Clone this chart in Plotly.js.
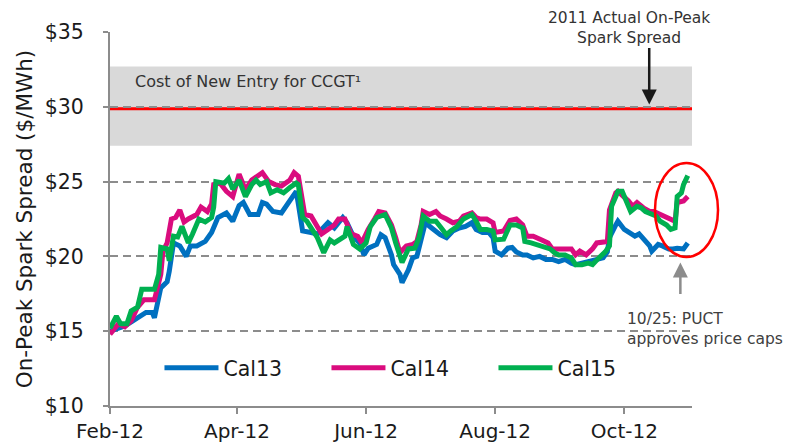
<!DOCTYPE html>
<html>
<head>
<meta charset="utf-8">
<script src="https://cdn.plot.ly/plotly-3.0.1.min.js"></script>
<style>html,body{margin:0;padding:0;background:#fff;}#chart{width:785px;height:444px;}</style>
</head>
<body>
<div id="chart"></div>
<script>
// ---- Data ----
var seriesNames = ['Cal13', 'Cal14', 'Cal15'];

var cal13Dates = ['2012-02-01','2012-02-08','2012-02-12','2012-02-14','2012-02-18','2012-02-21','2012-02-22','2012-02-25','2012-02-28','2012-02-29',
 '2012-03-02','2012-03-05','2012-03-08','2012-03-10','2012-03-13','2012-03-17','2012-03-20','2012-03-23','2012-03-27','2012-03-30',
 '2012-04-02','2012-04-04','2012-04-07','2012-04-11','2012-04-13','2012-04-15','2012-04-18','2012-04-22','2012-04-26','2012-04-29','2012-04-30',
 '2012-05-02','2012-05-06','2012-05-09','2012-05-11','2012-05-14','2012-05-17','2012-05-21','2012-05-23','2012-05-26','2012-05-29','2012-05-31',
 '2012-06-02','2012-06-06','2012-06-08','2012-06-10','2012-06-13','2012-06-14','2012-06-17','2012-06-18','2012-06-21','2012-06-23','2012-06-25','2012-06-27','2012-06-29',
 '2012-07-02','2012-07-06','2012-07-09','2012-07-12','2012-07-15','2012-07-18','2012-07-21','2012-07-23','2012-07-26','2012-07-29','2012-07-31',
 '2012-08-01','2012-08-04','2012-08-07','2012-08-09','2012-08-11','2012-08-14','2012-08-16','2012-08-19','2012-08-22','2012-08-25','2012-08-28','2012-08-31',
 '2012-09-03','2012-09-06','2012-09-08','2012-09-11','2012-09-14','2012-09-18','2012-09-21','2012-09-23','2012-09-24','2012-09-27','2012-09-28',
 '2012-10-01','2012-10-03','2012-10-06','2012-10-08','2012-10-11','2012-10-13','2012-10-14','2012-10-17','2012-10-19','2012-10-22','2012-10-24','2012-10-26','2012-10-29','2012-10-31'];
var cal13Values = [15.0,15.35,15.7,15.9,16.25,16.25,15.9,17.9,18.3,19.0,
 20.9,20.7,20.0,20.7,20.7,21.0,21.6,22.6,22.9,22.35,
 23.4,23.6,22.8,22.8,23.6,23.5,23.0,22.9,23.8,24.35,23.5,
 21.7,21.6,21.5,21.8,22.25,21.9,22.6,22.25,21.35,20.9,20.1,
 20.55,20.8,21.45,21.25,20.1,19.45,18.8,18.25,19.1,19.9,20.0,21.0,22.25,
 21.9,21.45,21.25,21.7,21.9,22.0,22.25,21.8,21.6,21.6,21.25,
 20.35,20.1,20.55,20.6,20.3,20.1,20.1,19.9,20.0,19.8,19.8,19.65,
 19.8,19.55,19.45,19.55,19.65,19.75,19.9,20.3,21.25,22.1,22.35,
 21.8,21.6,21.35,21.5,21.0,20.7,20.35,20.8,20.7,20.5,20.5,20.55,20.5,20.9];

var cal14Dates = ['2012-02-01','2012-02-03','2012-02-05','2012-02-08','2012-02-11','2012-02-14','2012-02-17','2012-02-22','2012-02-25','2012-02-26','2012-02-28',
 '2012-03-01','2012-03-03','2012-03-05','2012-03-07','2012-03-09','2012-03-13','2012-03-15','2012-03-18','2012-03-20','2012-03-21','2012-03-24','2012-03-27','2012-03-30',
 '2012-04-02','2012-04-05','2012-04-08','2012-04-13','2012-04-16','2012-04-19','2012-04-22','2012-04-26','2012-04-28','2012-04-30',
 '2012-05-03','2012-05-06','2012-05-09','2012-05-11','2012-05-14','2012-05-17','2012-05-19','2012-05-22','2012-05-25','2012-05-28','2012-05-30',
 '2012-06-02','2012-06-05','2012-06-07','2012-06-10','2012-06-13','2012-06-15','2012-06-17','2012-06-20','2012-06-23','2012-06-25','2012-06-27','2012-06-28',
 '2012-07-01','2012-07-04','2012-07-06','2012-07-09','2012-07-12','2012-07-15','2012-07-17','2012-07-21','2012-07-23','2012-07-25','2012-07-28','2012-07-31',
 '2012-08-01','2012-08-05','2012-08-08','2012-08-11','2012-08-14','2012-08-16','2012-08-19','2012-08-23','2012-08-26','2012-08-28','2012-08-31',
 '2012-09-03','2012-09-06','2012-09-08','2012-09-10','2012-09-13','2012-09-16','2012-09-18','2012-09-21','2012-09-23','2012-09-24','2012-09-27','2012-09-28',
 '2012-10-01','2012-10-03','2012-10-05','2012-10-07','2012-10-10','2012-10-13','2012-10-15','2012-10-18','2012-10-20','2012-10-22','2012-10-25','2012-10-26','2012-10-29','2012-10-31'];
var cal14Values = [14.8,15.1,15.5,15.3,15.7,16.6,17.1,17.1,18.8,20.35,20.9,
 22.5,22.6,23.1,22.3,22.5,22.8,23.3,23.0,23.5,24.8,24.9,24.35,24.0,
 25.5,24.45,25.1,25.6,25.0,24.8,24.7,25.1,25.6,25.35,
 22.8,22.7,21.9,21.5,21.8,22.1,22.5,22.5,21.5,21.35,20.9,
 21.8,22.5,23.0,22.9,22.1,21.25,20.25,20.7,20.8,21.0,22.1,23.0,
 22.8,23.0,22.7,22.5,22.25,22.35,22.7,22.9,22.6,22.5,22.5,22.25,
 21.6,21.7,22.4,22.5,22.1,21.35,21.35,21.1,20.9,20.5,20.5,
 20.55,20.5,20.1,20.35,20.1,20.5,20.9,21.0,21.0,23.1,24.25,24.35,
 24.0,23.7,23.35,23.6,23.25,23.0,23.0,22.8,22.6,22.5,22.35,23.6,23.7,24.0];

var cal15Dates = ['2012-02-01','2012-02-04','2012-02-06','2012-02-09','2012-02-11','2012-02-14','2012-02-16','2012-02-22','2012-02-24','2012-02-25','2012-02-28','2012-02-29',
 '2012-03-02','2012-03-04','2012-03-06','2012-03-09','2012-03-11','2012-03-14','2012-03-17','2012-03-20','2012-03-21','2012-03-22','2012-03-26','2012-03-28','2012-03-30',
 '2012-04-02','2012-04-05','2012-04-08','2012-04-10','2012-04-12','2012-04-15','2012-04-17','2012-04-20','2012-04-23','2012-04-26','2012-04-29','2012-04-30',
 '2012-05-02','2012-05-04','2012-05-07','2012-05-09','2012-05-12','2012-05-15','2012-05-17','2012-05-19','2012-05-22','2012-05-23','2012-05-26','2012-05-29',
 '2012-06-01','2012-06-03','2012-06-06','2012-06-10','2012-06-13','2012-06-15','2012-06-18','2012-06-21','2012-06-24','2012-06-26','2012-06-28',
 '2012-07-01','2012-07-04','2012-07-06','2012-07-09','2012-07-11','2012-07-14','2012-07-17','2012-07-21','2012-07-23','2012-07-25','2012-07-28','2012-07-31',
 '2012-08-01','2012-08-05','2012-08-08','2012-08-11','2012-08-14','2012-08-15','2012-08-18','2012-08-20','2012-08-23','2012-08-27','2012-08-29','2012-08-31',
 '2012-09-03','2012-09-06','2012-09-08','2012-09-11','2012-09-14','2012-09-16','2012-09-19','2012-09-22','2012-09-24','2012-09-25','2012-09-27','2012-09-28','2012-09-30',
 '2012-10-02','2012-10-04','2012-10-07','2012-10-09','2012-10-11','2012-10-14','2012-10-16','2012-10-18','2012-10-21','2012-10-23','2012-10-25','2012-10-26','2012-10-28','2012-10-29','2012-10-31'];
var cal15Values = [15.2,16.0,15.5,15.5,16.35,16.6,17.8,17.8,18.8,20.6,20.5,19.7,
 21.35,21.3,22.0,20.9,21.5,22.5,22.3,22.6,23.3,25.0,24.9,25.2,24.5,
 25.1,24.0,24.8,25.1,24.8,25.0,24.25,24.45,24.25,24.6,24.9,24.8,
 22.6,22.35,21.7,21.25,20.25,21.1,20.9,21.1,21.35,22.0,20.8,20.5,
 20.9,22.0,22.6,22.8,21.9,20.9,19.6,20.5,20.55,21.25,22.7,
 22.35,22.35,22.0,21.45,21.7,22.0,22.5,22.8,22.35,21.8,21.8,21.7,
 21.1,21.15,22.1,22.1,21.9,21.0,20.9,20.8,20.7,20.5,20.25,20.1,
 20.1,19.9,19.45,19.45,19.55,19.45,19.9,20.3,20.7,23.35,24.0,24.35,24.35,
 23.6,23.0,23.35,23.25,23.0,22.8,22.7,22.35,22.1,21.8,21.9,24.0,24.25,24.8,25.4];

var yTickValues = [10, 15, 20, 25, 30, 35];
var yTickLabels = ['$10', '$15', '$20', '$25', '$30', '$35'];
var xTickValues = ['2012-02-01', '2012-04-01', '2012-06-01', '2012-08-01', '2012-10-01'];
var xTickLabels = ['Feb-12', 'Apr-12', 'Jun-12', 'Aug-12', 'Oct-12'];

var cone = { low: 27.4, high: 32.7, value: 29.87 };  // cost of new entry band and 2011 actual line

// ---- Styling ----
var colors = ['#0070C0', '#DA0C7E', '#00B050'];
var FONT = 'DejaVu Sans, Verdana, sans-serif';

var allDates = [cal13Dates, cal14Dates, cal15Dates];
var allValues = [cal13Values, cal14Values, cal15Values];
var traces = seriesNames.map(function (n, i) {
  return {
    type: 'scatter', mode: 'lines', name: n,
    x: allDates[i], y: allValues[i],
    line: { color: colors[i], width: 5 },
    hoverinfo: 'skip'
  };
});

var layout = {
  width: 785, height: 444,
  margin: { l: 110, r: 93, t: 32, b: 38, pad: 0 },
  paper_bgcolor: '#ffffff', plot_bgcolor: '#ffffff',
  font: { family: FONT, color: '#1a1a1a' },
  showlegend: true,
  legend: {
    orientation: 'h', x: 0.085, y: 0.102, xanchor: 'left', yanchor: 'middle',
    font: { size: 20.5, family: FONT, color: '#1a1a1a' },
    bgcolor: 'rgba(0,0,0,0)', entrywidth: 98, itemwidth: 54, tracegroupgap: 0
  },
  xaxis: {
    type: 'date', range: ['2012-02-01', '2012-11-02'],
    tickvals: xTickValues, ticktext: xTickLabels,
    ticks: 'outside', ticklen: 6, tickwidth: 2, tickcolor: '#8c8c8c',
    showline: true, linecolor: '#8c8c8c', linewidth: 2,
    showgrid: false, zeroline: false,
    tickfont: { size: 20, family: FONT, color: '#1a1a1a' }
  },
  yaxis: {
    range: [10, 35], tickvals: yTickValues, ticktext: yTickLabels,
    ticks: 'outside', ticklen: 5, tickwidth: 2, tickcolor: '#8c8c8c',
    showline: true, linecolor: '#8c8c8c', linewidth: 2,
    showgrid: true, gridcolor: '#8c8c8c', gridwidth: 2, griddash: '8px,5px',
    zeroline: false, ticklabelstandoff: 15,
    tickfont: { size: 20.5, family: FONT, color: '#1a1a1a' },
    title: { text: 'On-Peak Spark Spread ($/MWh)', font: { size: 21.5, family: FONT, color: '#1a1a1a' }, standoff: 6 }
  },
  shapes: [
    { type: 'rect', layer: 'between', xref: 'paper', yref: 'y', x0: 0, x1: 1, y0: cone.low, y1: cone.high,
      fillcolor: '#d9d9d9', line: { width: 0 } },
    { type: 'line', layer: 'between', xref: 'paper', yref: 'y', x0: 0, x1: 1, y0: cone.value, y1: cone.value,
      line: { color: '#ff0000', width: 3 } },
    { type: 'circle', layer: 'above', xref: 'paper', yref: 'paper', x0: 0.9364, x1: 1.0447, y0: 0.3984, y1: 0.6497,
      line: { color: '#ff0000', width: 2.5 } }
  ],
  annotations: [
    { xref: 'paper', yref: 'y', x: 0.0395, y: 31.67, xanchor: 'left', yanchor: 'middle', showarrow: false,
      text: 'Cost of New Entry for CCGT¹', font: { size: 16, family: FONT, color: '#333333' } },
    { xref: 'paper', yref: 'paper', x: 0.892, y: 1.0107, xanchor: 'center', yanchor: 'middle', showarrow: false,
      text: '2011 Actual On-Peak<br>Spark Spread', font: { size: 15.5, family: FONT, color: '#333333' } },
    { xref: 'x', yref: 'y', x: '2012-10-12 19:00', y: 30.15, text: '', showarrow: true,
      ax: 0, ay: -58, arrowhead: 2, arrowsize: 1.2, arrowwidth: 2.5, arrowcolor: '#1a1a1a', standoff: 0 },
    { xref: 'x', yref: 'y', x: '2012-10-27 12:00', y: 19.6, text: '', showarrow: true,
      ax: 0, ay: 33, arrowhead: 2, arrowsize: 1.2, arrowwidth: 2.5, arrowcolor: '#8c8c8c', standoff: 0 },
    { xref: 'paper', yref: 'paper', x: 0.885, y: 0.206, xanchor: 'left', yanchor: 'middle', align: 'left', showarrow: false,
      text: '10/25: PUCT<br>approves price caps', font: { size: 15.5, family: FONT, color: '#404040' } }
  ]
};

Plotly.newPlot('chart', traces, layout, { displayModeBar: false, staticPlot: true });
</script>
</body>
</html>
